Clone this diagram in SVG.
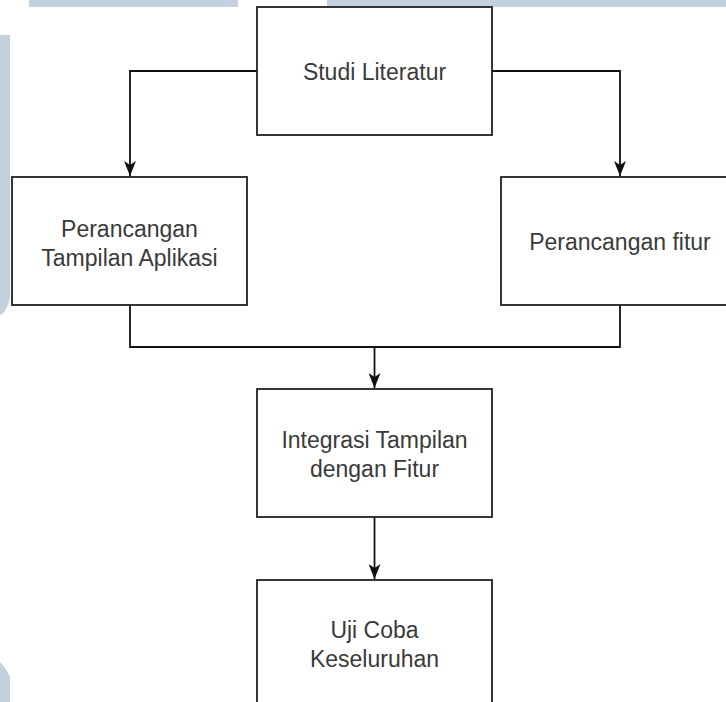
<svg xmlns="http://www.w3.org/2000/svg" width="726" height="702" viewBox="0 0 726 702">
<style>
.wm{fill:#c3d1de;stroke:none}
.box{fill:#ffffff;stroke:#222;stroke-width:1.8}
.lbl{font-family:"Liberation Sans",Arial,sans-serif;font-size:23px;fill:#3a3a3a;text-anchor:middle}
.edge{fill:none;stroke:#111;stroke-width:1.8}
</style>
<defs>
<marker id="arr" viewBox="0 0 15 12" refX="15" refY="6" markerWidth="15" markerHeight="12" markerUnits="userSpaceOnUse" orient="auto">
<path d="M0,0 L15,6 L0,12 L4,6 Z" fill="#111"/>
</marker>
</defs>
<rect width="726" height="702" fill="#ffffff"/>
<g id="watermark">
<rect class="wm" x="29" y="0" width="209" height="7"/>
<rect class="wm" x="327" y="0" width="399" height="7"/>
<path class="wm" d="M0,35 L10,35 L10,298 Q8,308 2,314 L0,315 Z"/>
<path class="wm" d="M0,662 Q6,668 10,677 L10,702 L0,702 Z"/>
</g>
<g id="connectors">
<path class="edge" d="M257,71 H130 V176" marker-end="url(#arr)"/>
<path class="edge" d="M492,71 H620 V176" marker-end="url(#arr)"/>
<path class="edge" d="M130,305 V347 H620 V305"/>
<path class="edge" d="M374.5,347 V388" marker-end="url(#arr)"/>
<path class="edge" d="M374.5,517 V579" marker-end="url(#arr)"/>
</g>
<g id="studi">
<rect class="box" x="257" y="7" width="235" height="128"/>
<text class="lbl" x="374.5" y="80">Studi Literatur</text>
</g>
<g id="tampilan">
<rect class="box" x="12" y="177" width="235" height="128"/>
<text class="lbl" x="129.5" y="237">Perancangan</text>
<text class="lbl" x="129.5" y="266">Tampilan Aplikasi</text>
</g>
<g id="fitur">
<rect class="box" x="501" y="177" width="235" height="128"/>
<text class="lbl" x="620" y="250">Perancangan fitur</text>
</g>
<g id="integrasi">
<rect class="box" x="257" y="389" width="235" height="128"/>
<text class="lbl" x="374.5" y="448">Integrasi Tampilan</text>
<text class="lbl" x="374.5" y="477">dengan Fitur</text>
</g>
<g id="ujicoba">
<rect class="box" x="257" y="580" width="235" height="128"/>
<text class="lbl" x="374.5" y="638">Uji Coba</text>
<text class="lbl" x="374.5" y="667">Keseluruhan</text>
</g>
</svg>
